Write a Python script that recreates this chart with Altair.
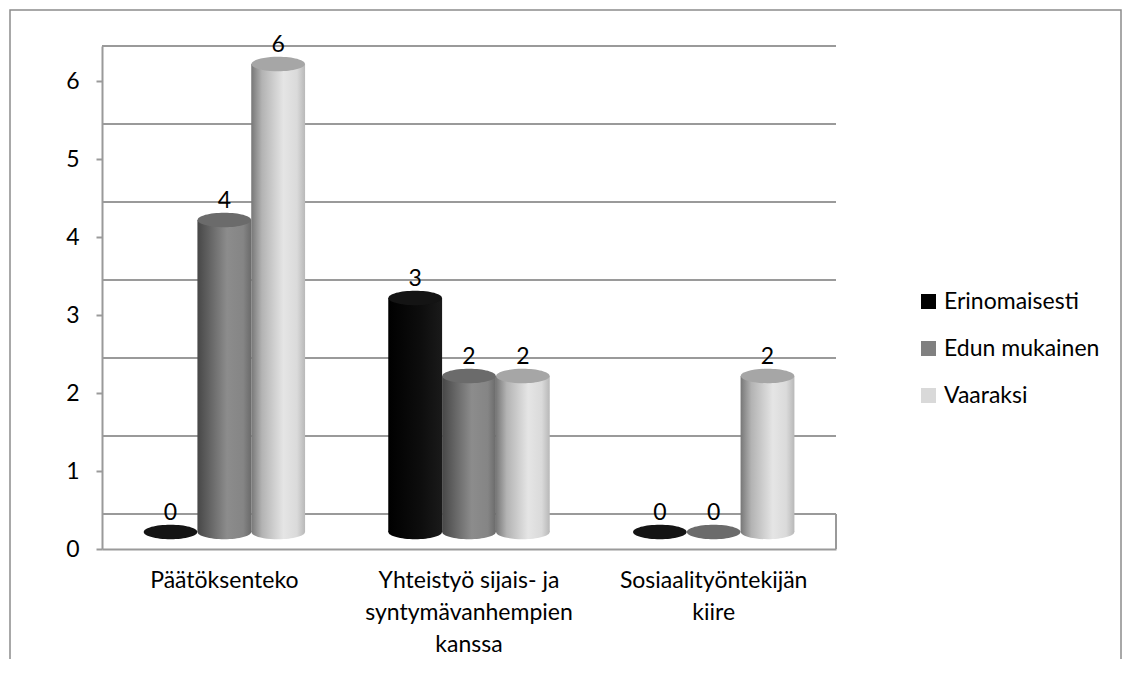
import altair as alt
import pandas as pd

# ---- data ----
categories = [
    "Päätöksenteko",
    "Yhteistyö sijais- ja|syntymävanhempien|kanssa",
    "Sosiaalityöntekijän|kiire",
]
series_names = ["Erinomaisesti", "Edun mukainen", "Vaaraksi"]
erinomaisesti = [0, 3, 0]
edun_mukainen = [4, 2, 0]
vaaraksi = [6, 2, 2]
y_ticks = [0, 1, 2, 3, 4, 5, 6]
legend_colors = ["#000000", "#808080", "#d9d9d9"]

rows = []
for s, vals in zip(series_names, [erinomaisesti, edun_mukainen, vaaraksi]):
    for c, v in zip(categories, vals):
        rows.append({"category": c, "series": s, "value": v})
df = pd.DataFrame(rows)
grid_df = pd.DataFrame({"v": y_ticks})

# ---- styling ----
W, H = 734, 503
FONT = "Lato"
FS = 23
GRID = "#9a9a9a"
BAR_SHIFT = -17      # 3D depth shift of the cylinders
WALL_SHIFT = -35     # 3D depth shift of the back wall

gradients = {
    "Erinomaisesti": alt.Gradient(gradient="linear", x1=0, x2=1, y1=0, y2=0, stops=[
        alt.GradientStop(offset=0, color="#000000"),
        alt.GradientStop(offset=0.6, color="#0d0d0d"),
        alt.GradientStop(offset=1, color="#1a1a1a")]),
    "Edun mukainen": alt.Gradient(gradient="linear", x1=0, x2=1, y1=0, y2=0, stops=[
        alt.GradientStop(offset=0, color="#474747"),
        alt.GradientStop(offset=0.55, color="#8c8c8c"),
        alt.GradientStop(offset=0.85, color="#858585"),
        alt.GradientStop(offset=1, color="#6a6a6a")]),
    "Vaaraksi": alt.Gradient(gradient="linear", x1=0, x2=1, y1=0, y2=0, stops=[
        alt.GradientStop(offset=0, color="#777777"),
        alt.GradientStop(offset=0.2, color="#b3b3b3"),
        alt.GradientStop(offset=0.6, color="#e5e5e5"),
        alt.GradientStop(offset=0.85, color="#dadada"),
        alt.GradientStop(offset=1, color="#b8b8b8")]),
}
top_colors = {"Erinomaisesti": "#141414", "Edun mukainen": "#6b6b6b", "Vaaraksi": "#a6a6a6"}

ELLIPSE = "M-1,0A1,0.27,0,1,0,1,0A1,0.27,0,1,0,-1,0Z"
ELL_SIZE = 2870

x_enc = alt.X(
    "category:N",
    sort=categories,
    scale=alt.Scale(domain=categories, paddingInner=0.34, paddingOuter=0.17),
    axis=alt.Axis(
        title=None, labelAngle=0, ticks=False, domainColor=GRID, domainWidth=2,
        labelFont=FONT, labelFontSize=FS, labelColor="#000000",
        labelExpr="split(datum.value, '|')", labelLineHeight=32,
        labelPadding=20, labelBaseline="top", labelLimit=300,
    ),
)
xoff = alt.XOffset("series:N", sort=series_names,
                   scale=alt.Scale(domain=series_names, paddingInner=0, paddingOuter=0))
y_scale = alt.Scale(domain=[0, 6.45], nice=False, zero=True)
y_axis = alt.Axis(
    title=None, values=y_ticks, grid=False, tickSize=6, tickColor=GRID, tickWidth=2,
    domainColor=GRID, domainWidth=2, labelFont=FONT, labelFontSize=FS,
    labelColor="#000000", labelPadding=17,
)

# outer frame
frame = alt.Chart(alt.Data(values=[{"f": 1}])).mark_rect(
    fill=None, stroke="#8c8c8c", strokeWidth=1.5
).encode(x=alt.value(-92), x2=alt.value(1019), y=alt.value(-36), y2=alt.value(700))

# back wall gridlines (shifted for 3D depth)
grid = alt.Chart(grid_df).mark_rule(color=GRID, strokeWidth=2, yOffset=WALL_SHIFT).encode(
    y=alt.Y("v:Q", scale=y_scale, axis=y_axis), x=alt.value(0), x2=alt.value(W)
)
floor_edge = alt.Chart(grid_df).transform_filter("datum.v == 0").mark_rule(
    color=GRID, strokeWidth=2, yOffset=WALL_SHIFT, y2Offset=0
).encode(y=alt.Y("v:Q", scale=y_scale, axis=y_axis), y2="v:Q", x=alt.value(W))

layers = [frame, grid, floor_edge]
for s in series_names:
    base = alt.Chart(df).transform_filter(alt.datum.series == s)
    bottom = base.transform_filter("datum.value > 0").mark_point(
        shape=ELLIPSE, size=ELL_SIZE, filled=True, opacity=1, fill=gradients[s],
        strokeWidth=0, yOffset=BAR_SHIFT,
    ).encode(x=x_enc, xOffset=xoff, y=alt.Y("y0:Q", scale=y_scale, axis=y_axis)).transform_calculate(y0="0")
    body = base.mark_bar(fill=gradients[s], yOffset=BAR_SHIFT, y2Offset=BAR_SHIFT).encode(
        x=x_enc, xOffset=xoff,
        y=alt.Y("value:Q", scale=y_scale, axis=y_axis), y2=alt.Y2(datum=0),
    )
    top = base.mark_point(
        shape=ELLIPSE, size=ELL_SIZE, filled=True, opacity=1, fill=top_colors[s],
        strokeWidth=0, yOffset=BAR_SHIFT,
    ).encode(x=x_enc, xOffset=xoff, y=alt.Y("value:Q", scale=y_scale, axis=y_axis))
    layers += [bottom, body, top]

labels = alt.Chart(df).mark_text(
    font=FONT, fontSize=FS, color="#000000", baseline="middle", yOffset=-36
).encode(x=x_enc, xOffset=xoff, y=alt.Y("value:Q", scale=y_scale, axis=y_axis), text="value:Q")

legend_layer = alt.Chart(df).mark_square(opacity=0, size=10).encode(
    x=x_enc, xOffset=xoff, y=alt.Y("value:Q", scale=y_scale, axis=y_axis),
    color=alt.Color(
        "series:N", sort=series_names,
        scale=alt.Scale(domain=series_names, range=legend_colors),
        legend=alt.Legend(
            title=None, orient="none", legendX=815, legendY=244,
            symbolType="square", symbolSize=225, symbolOpacity=1, symbolStrokeWidth=0,
            labelFont=FONT, labelFontSize=FS, labelColor="#000000",
            rowPadding=23, labelOffset=4, padding=0,
        ),
    ),
)
layers += [labels, legend_layer]

chart = alt.layer(*layers).properties(
    width=W, height=H,
    autosize=alt.AutoSizeParams(type="none"),
    padding={"left": 94, "top": 38, "right": 290, "bottom": 110},
    background="#ffffff",
).configure_view(stroke=None)

chart.save("out.html", embed_options={"renderer": "svg", "actions": False})
